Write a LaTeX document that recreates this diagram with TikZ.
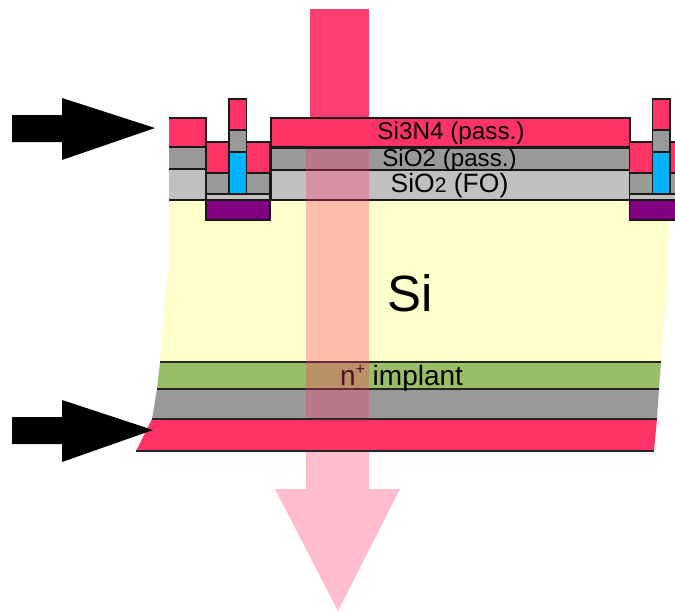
\documentclass[tikz,border=0pt]{standalone}
\usepackage{fontspec}
\setmainfont{Liberation Sans}
\definecolor{nitride}{HTML}{FF3366}
\definecolor{oxide}{HTML}{999999}
\definecolor{fieldox}{HTML}{C0C0C0}
\definecolor{silicon}{HTML}{FFFFCC}
\definecolor{implant}{HTML}{99BF66}
\definecolor{metal}{HTML}{00B2FF}
\definecolor{well}{HTML}{800080}
\tikzset{
  block/.style={draw=black!90,line width=1.2pt},
  layerline/.style={draw=black!85,line width=1.1pt},
  lbl/.style={inner sep=0pt,text=black}
}
\begin{document}
\begin{tikzpicture}[x=1pt,y=-1pt]
  \clip (0,0) rectangle (675,611);
  % incoming beam
  \fill[nitride!95!white] (310,9) rectangle (369,120);
  % substrate
  \fill[silicon] (169,200) -- (669,200) -- (669,222) -- (667,280) -- (661,362) -- (160,362) -- (165,300) -- (169,270) -- cycle;
  \fill[implant] (160,362) -- (661,362) -- (659,389) -- (157,389) -- cycle;
  \fill[oxide] (157,389) -- (659,389) -- (657,419) -- (152,419) -- cycle;
  \draw[layerline] (160,362) -- (661,362);
  \draw[layerline] (157,389) -- (659,389);
  % stack
  \draw[block,fill=nitride] (169,118) -- (206,118) -- (206,147) -- (169,147);
  \draw[block,fill=oxide] (169,147) -- (206,147) -- (206,169) -- (169,169);
  \draw[block,fill=fieldox] (169,169) -- (206,169) -- (206,200) -- (169,200);
  \draw[block,fill=nitride] (271,118) rectangle (630,147);
  \draw[block,fill=oxide] (271,148) rectangle (630,170);
  \draw[block,fill=fieldox] (271,170) rectangle (630,200);
  % gates
  \foreach \dx in {0,423.5} {
    \begin{scope}[xshift=\dx pt]
      \draw[block,fill=nitride] (206,142) rectangle (229,173);
      \draw[block,fill=nitride] (246.5,142) rectangle (270,173);
      \draw[block,fill=oxide] (206,173) rectangle (229,194);
      \draw[block,fill=oxide] (246.5,173) rectangle (270,194);
      \draw[block,fill=nitride] (229,99) rectangle (246.5,130);
      \draw[block,fill=oxide] (229,130) rectangle (246.5,152);
      \draw[block,fill=metal] (229,152) rectangle (246.5,194);
      \draw[block,fill=fieldox] (206,194) rectangle (270,200);
      \draw[block,fill=well] (206,200) rectangle (270,220);
    \end{scope}
  }
  % labels
  \node[lbl,font=\fontsize{24.3}{24}\selectfont] (nitlabel) at (451,133) {Si3N4 (pass.)};
  \node[lbl,font=\fontsize{24.2}{24}\selectfont] (oxlabel) at (449.5,160) {SiO2 (pass.)};
  \node[lbl,font=\fontsize{26.5}{26}\selectfont] (folabel) at (449.5,186) {SiO\fontsize{21}{21}\selectfont 2\fontsize{26.5}{26}\selectfont{} (FO)};
  \node[lbl,font=\fontsize{51}{51}\selectfont] (silabel) at (410.5,293) {Si};
  \node[lbl,font=\fontsize{28}{28}\selectfont] (nlabel) at (401.5,378) {n\raisebox{.7ex}{\fontsize{16}{16}\selectfont +} implant};
  % outgoing beam
  \fill[nitride,opacity=.32] (306,149) -- (369,149) -- (369,489) -- (400,489) -- (338,611) -- (275,489) -- (306,489) -- cycle;
  % back layer
  \fill[nitride] (152,419) -- (657,419) -- (654,451) -- (136,451) -- cycle;
  \draw[layerline] (152,419) -- (657,419);
  \draw[layerline] (136,451) -- (654,451);
  % side arrows
  \fill[black] (12,115) -- (62,115) -- (62,98) -- (155,128) -- (62,160) -- (62,142) -- (12,142) -- cycle;
  \fill[black] (12,417) -- (62,417) -- (62,400) -- (153,430) -- (62,462) -- (62,444) -- (12,444) -- cycle;
\end{tikzpicture}
\end{document}
